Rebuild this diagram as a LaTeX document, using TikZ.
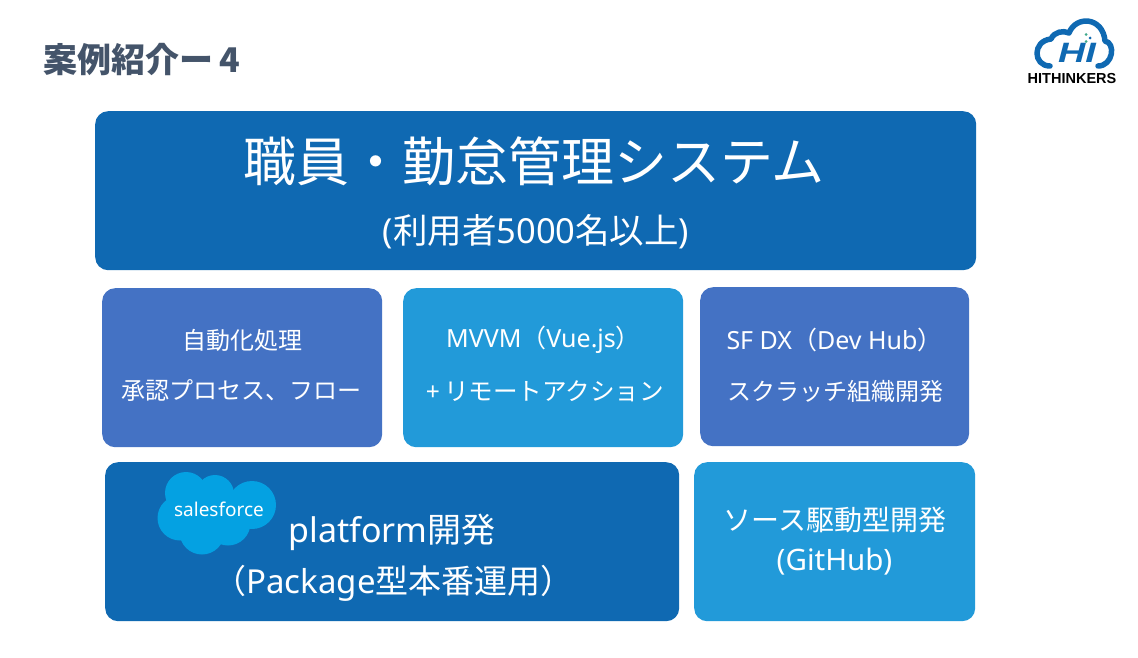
\documentclass[tikz,border=0pt]{standalone}
\usepackage{fontspec}
\setmainfont{Noto Sans}
\newfontfamily\cjk{Noto Sans CJK JP}
\newfontfamily\logofont{Liberation Sans}
\usepackage{tikz}
\usetikzlibrary{positioning}
\definecolor{deepblue}{HTML}{0F69B2}
\definecolor{midblue}{HTML}{4472C4}
\definecolor{skyblue}{HTML}{229AD9}
\definecolor{sfblue}{HTML}{04A1E2}
\definecolor{titlegray}{HTML}{44546A}
\definecolor{dotgreen}{HTML}{3FA98C}
\tikzset{
  panel/.style={rounded corners=13pt,inner sep=0pt,anchor=north west},
  label/.style={text=white,inner sep=0pt,font=\fontsize{#1}{#1}\selectfont},
  label/.default=24
}
\begin{document}
\begin{tikzpicture}[line cap=round,line join=round,x=1pt,y=-1pt]
\useasboundingbox (0,0) rectangle (1138,658);
\fill[white] (0,0) rectangle (1138,658);
% heading
\node[inner sep=0pt,text=titlegray,font=\fontsize{34}{34}\selectfont\cjk\bfseries] (title) at (142,60) {案例紹介ー\,4};
% panels
\node[panel,fill=deepblue,minimum width=881pt,minimum height=159pt] (system) at (95,111) {};
\node[panel,fill=midblue,minimum width=280pt,minimum height=159pt] (auto) at (102,288) {};
\node[panel,fill=skyblue,minimum width=280pt,minimum height=159pt] (mvvm) at (403,288) {};
\node[panel,fill=midblue,minimum width=269pt,minimum height=159pt] (sfdx) at (700,287) {};
\node[panel,fill=deepblue,minimum width=574pt,minimum height=159pt] (platform) at (105,462) {};
\node[panel,fill=skyblue,minimum width=281pt,minimum height=159pt] (source) at (694,462) {};
% texts
\node[label=53] (systemA) at (534,161) {\cjk 職員・勤怠管理システム};
\node[label=34.5] (systemB) at (536,232) {({\cjk 利用者}5000{\cjk 名以上})};
\node[label=24] (autoA) at (242,340) {\cjk 自動化処理};
\node[label=24] (autoB) at (241,391) {\cjk 承認プロセス、フロー};
\node[label=25] (mvvmA) at (543.5,340) {MVVM{\cjk （}Vue.js{\cjk ）}};
\node[label=24.6] (mvvmB) at (545,391) {+\,{\cjk リモートアクション}};
\node[label=25] (sfdxA) at (834.5,340) {SF DX{\cjk （}Dev Hub{\cjk ）}};
\node[label=24] (sfdxB) at (835,391) {\cjk スクラッチ組織開発};
\node[label=34] (platformA) at (392,532) {platform{\cjk 開発}};
\node[label=33] (platformB) at (393.5,583) {{\cjk （}Package{\cjk 型本番運用）}};
\node[label=28] (sourceA) at (835,520) {\cjk ソース駆動型開発};
\node[label=29.5] (sourceB) at (834.5,562) {(GitHub)};
% salesforce cloud
\fill[sfblue] (186,493) circle (21);
\fill[sfblue] (180,518) circle (22.5);
\fill[sfblue] (215,494) circle (19);
\fill[sfblue] (252,505) circle (24);
\fill[sfblue] (202,532) circle (22.5);
\fill[sfblue] (228,523) circle (22.5);
\fill[sfblue] (190,495) rectangle (245,525);
\node[label=19] (sflogo) at (219,509) {salesforce};
% hithinkers logo
\draw[deepblue,line width=5.5pt] (1050,66) .. controls (1033,66) and (1032,41) .. (1051,39) .. controls (1054,32) and (1063,30) .. (1069,33) .. controls (1076,15) and (1103,17) .. (1105,41) .. controls (1116,43) and (1113,66) .. (1098,66);
\node[inner sep=0pt,text=deepblue,font=\fontsize{28}{28}\selectfont\logofont\bfseries\itshape,xscale=1.35] (hilogo) at (1077,53) {HI};
\fill[dotgreen] (1086,34.5) circle (1.5);
\fill[deepblue] (1090,38) circle (1.5);
\fill[dotgreen] (1086,41.5) circle (1.5);
\node[inner sep=0pt,font=\fontsize{14.5}{14.5}\selectfont\logofont\bfseries] (hitext) at (1072,79) {HITHINKERS};
\end{tikzpicture}
\end{document}
